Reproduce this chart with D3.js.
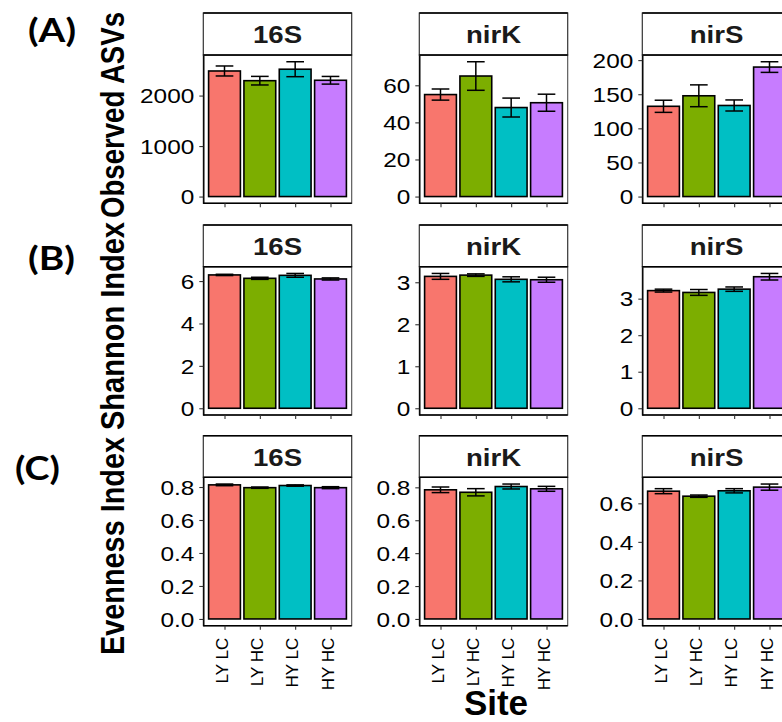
<!DOCTYPE html>
<html>
<head>
<meta charset="utf-8">
<script src="https://cdn.jsdelivr.net/npm/d3@7"></script>
<style>
  body { margin: 0; background: #fff; }
  svg { display: block; }
</style>
</head>
<body>
<script>
// ---- data -------------------------------------------------------------
const sites = ["LY LC", "LY HC", "HY LC", "HY HC"];
const siteColors = ["#F8766D", "#7CAE00", "#00BFC4", "#C77CFF"];
const genes = ["16S", "nirK", "nirS"];
const metricTitles = ["Observed ASVs", "Shannon Index", "Evenness Index"];
const rowTags = ["(A)", "(B)", "(C)"];

// Observed ASVs (mean, standard error)
const observedMean16S = [2487, 2295, 2522, 2303];
const observedSe16S   = [99, 85, 148, 76];
const observedMeanNirK = [55.0, 65.0, 48.0, 50.6];
const observedSeNirK   = [3.0, 7.7, 5.1, 4.6];
const observedMeanNirS = [132.3, 147.7, 133.5, 189.8];
const observedSeNirS   = [8.9, 16.0, 8.1, 7.8];

// Shannon index
const shannonMean16S = [6.29, 6.13, 6.27, 6.10];
const shannonSe16S   = [0.03, 0.05, 0.09, 0.05];
const shannonMeanNirK = [3.14, 3.17, 3.07, 3.06];
const shannonSeNirK   = [0.07, 0.03, 0.06, 0.06];
const shannonMeanNirS = [3.22, 3.17, 3.26, 3.60];
const shannonSeNirS   = [0.04, 0.08, 0.06, 0.09];

// Evenness index
const evennessMean16S = [0.813, 0.796, 0.809, 0.796];
const evennessSe16S   = [0.005, 0.004, 0.004, 0.006];
const evennessMeanNirK = [0.785, 0.770, 0.805, 0.791];
const evennessSeNirK   = [0.017, 0.022, 0.015, 0.015];
const evennessMeanNirS = [0.663, 0.637, 0.665, 0.684];
const evennessSeNirS   = [0.013, 0.006, 0.011, 0.016];

// y-axis breaks
const observedTicks16S  = [0, 1000, 2000];
const observedTicksNirK = [0, 20, 40, 60];
const observedTicksNirS = [0, 50, 100, 150, 200];
const shannonTicks16S   = [0, 2, 4, 6];
const shannonTicksNirK  = [0, 1, 2, 3];
const shannonTicksNirS  = [0, 1, 2, 3];
const evennessTicks16S  = [0, 0.2, 0.4, 0.6, 0.8];
const evennessTicksNirK = [0, 0.2, 0.4, 0.6, 0.8];
const evennessTicksNirS = [0, 0.2, 0.4, 0.6];

const rows = [
  { mean: [observedMean16S, observedMeanNirK, observedMeanNirS],
    se:   [observedSe16S, observedSeNirK, observedSeNirS],
    ticks:[observedTicks16S, observedTicksNirK, observedTicksNirS], fmt: d3.format("d") },
  { mean: [shannonMean16S, shannonMeanNirK, shannonMeanNirS],
    se:   [shannonSe16S, shannonSeNirK, shannonSeNirS],
    ticks:[shannonTicks16S, shannonTicksNirK, shannonTicksNirS], fmt: d3.format("d") },
  { mean: [evennessMean16S, evennessMeanNirK, evennessMeanNirS],
    se:   [evennessSe16S, evennessSeNirK, evennessSeNirS],
    ticks:[evennessTicks16S, evennessTicksNirK, evennessTicksNirS], fmt: d3.format(".1f") }
];

// ---- layout -----------------------------------------------------------
const W = 782, H = 722;
const panelLeft = [203.3, 419.3, 642.3];
const panelW = 148.4;
const stripTop = [13, 225, 435.7];
const stripBottom = [55, 266.7, 477.3];
const plotBottom = [203.3, 415, 625.7];
const titleCenterY = [115, 326, 546];
const titleLength = [206, 208, 218];
const tagPos = [[28, 42, 48], [28, 269.5, 47], [15, 480, 45]];

const AXIS_FONT = "'Liberation Sans', Arial, sans-serif";
const TICK_SX = 1.22;

const svg = d3.select("body").append("svg")
  .attr("width", W).attr("height", H)
  .attr("viewBox", `0 0 ${W} ${H}`);

svg.append("rect").attr("width", W).attr("height", H).attr("fill", "#fff");

rows.forEach((row, r) => {
  genes.forEach((gene, g) => {
    const mean = row.mean[g], se = row.se[g];
    const top = d3.max(mean, (m, i) => m + se[i]);
    const left = panelLeft[g], right = left + panelW;

    const y = d3.scaleLinear()
      .domain([-0.05 * top, 1.05 * top])
      .range([plotBottom[r], stripBottom[r]]);
    const x = d3.scalePoint().domain(sites)
      .range([left, right]).padding(0.6);
    const step = x.step();

    const p = svg.append("g");

    // panel frame
    p.append("rect")
      .attr("x", left).attr("y", stripBottom[r])
      .attr("width", panelW).attr("height", plotBottom[r] - stripBottom[r])
      .attr("fill", "#fff").attr("stroke", "#4d4d4d").attr("stroke-width", 1.1);

    const recs = sites.map((s, i) => ({ site: s, mean: mean[i], se: se[i], color: siteColors[i] }));

    // bars
    p.selectAll("rect.bar").data(recs).join("rect")
      .attr("class", "bar")
      .attr("x", d => x(d.site) - 0.45 * step)
      .attr("width", 0.9 * step)
      .attr("y", d => y(d.mean))
      .attr("height", d => y(0) - y(d.mean))
      .attr("fill", d => d.color)
      .attr("stroke", "#000").attr("stroke-width", 1.6);

    // error bars
    const eb = p.selectAll("g.err").data(recs).join("g").attr("class", "err")
      .attr("stroke", "#000").attr("stroke-width", 1.5);
    eb.append("line")
      .attr("x1", d => x(d.site)).attr("x2", d => x(d.site))
      .attr("y1", d => y(d.mean - d.se)).attr("y2", d => y(d.mean + d.se));
    [1, -1].forEach(sgn => {
      eb.append("line")
        .attr("x1", d => x(d.site) - 0.25 * step).attr("x2", d => x(d.site) + 0.25 * step)
        .attr("y1", d => y(d.mean + sgn * d.se)).attr("y2", d => y(d.mean + sgn * d.se));
    });

    // y axis
    const ya = p.append("g").attr("transform", `translate(${left},0)`)
      .call(d3.axisLeft(y).tickValues(row.ticks[g]).tickFormat(row.fmt)
        .tickSize(4).tickSizeOuter(0));
    ya.select(".domain").attr("stroke", "#000").attr("stroke-width", 1.4);
    ya.selectAll(".tick line").attr("stroke", "#333").attr("stroke-width", 1.1);
    ya.selectAll(".tick text")
      .attr("x", 0).attr("dy", "0.36em")
      .attr("transform", `translate(-9,0) scale(${TICK_SX},1)`)
      .attr("fill", "#000")
      .style("font-family", AXIS_FONT).style("font-size", "20px");

    // x axis
    const xa = p.append("g").attr("transform", `translate(0,${plotBottom[r]})`)
      .call(d3.axisBottom(x).tickSize(4).tickSizeOuter(0));
    xa.select(".domain").attr("stroke", "#000").attr("stroke-width", 1.4)
      .attr("d", `M${left},0H${right}`);
    xa.selectAll(".tick line").attr("stroke", "#333").attr("stroke-width", 1.1);
    if (r === rows.length - 1) {
      xa.selectAll(".tick text")
        .attr("x", 0).attr("y", 0).attr("dy", 0)
        .attr("text-anchor", "end")
        .attr("transform", "translate(2.5,12) rotate(-90)")
        .attr("fill", "#000")
        .style("font-family", AXIS_FONT).style("font-size", "17px");
    } else {
      xa.selectAll(".tick text").remove();
    }

    // facet strip
    p.append("rect")
      .attr("x", left).attr("y", stripTop[r])
      .attr("width", panelW).attr("height", stripBottom[r] - stripTop[r])
      .attr("fill", "#fff").attr("stroke", "#333").attr("stroke-width", 1.2);
    p.append("line")
      .attr("x1", left).attr("x2", right)
      .attr("y1", stripTop[r]).attr("y2", stripTop[r])
      .attr("stroke", "#000").attr("stroke-width", 1.4);
    p.append("line")
      .attr("x1", left).attr("x2", right)
      .attr("y1", stripBottom[r]).attr("y2", stripBottom[r])
      .attr("stroke", "#000").attr("stroke-width", 1.6);
    p.append("text")
      .attr("transform", `translate(${left + panelW / 2},${(stripTop[r] + stripBottom[r]) / 2 + 9}) scale(1.2,1)`)
      .attr("text-anchor", "middle")
      .attr("fill", "#1a1a1a")
      .style("font-family", AXIS_FONT).style("font-weight", "bold").style("font-size", "23px")
      .text(gene);
  });

  // metric title
  svg.append("text")
    .attr("transform", `translate(124,${titleCenterY[r]}) scale(1.2,1) rotate(-90)`)
    .attr("text-anchor", "middle")
    .attr("textLength", titleLength[r]).attr("lengthAdjust", "spacingAndGlyphs")
    .attr("fill", "#000")
    .style("font-family", AXIS_FONT).style("font-weight", "bold").style("font-size", "28px")
    .text(metricTitles[r]);

  // row tag
  svg.append("text")
    .attr("x", tagPos[r][0]).attr("y", tagPos[r][1])
    .attr("textLength", tagPos[r][2]).attr("lengthAdjust", "spacingAndGlyphs")
    .attr("fill", "#000")
    .style("font-family", "Lato, 'Open Sans', sans-serif").style("font-weight", "bold").style("font-size", "33px")
    .text(rowTags[r]);
});

// shared x title
svg.append("text")
  .attr("x", 496).attr("y", 715)
  .attr("text-anchor", "middle")
  .attr("fill", "#000")
  .style("font-family", AXIS_FONT).style("font-weight", "bold").style("font-size", "35px")
  .text("Site");
</script>
</body>
</html>
